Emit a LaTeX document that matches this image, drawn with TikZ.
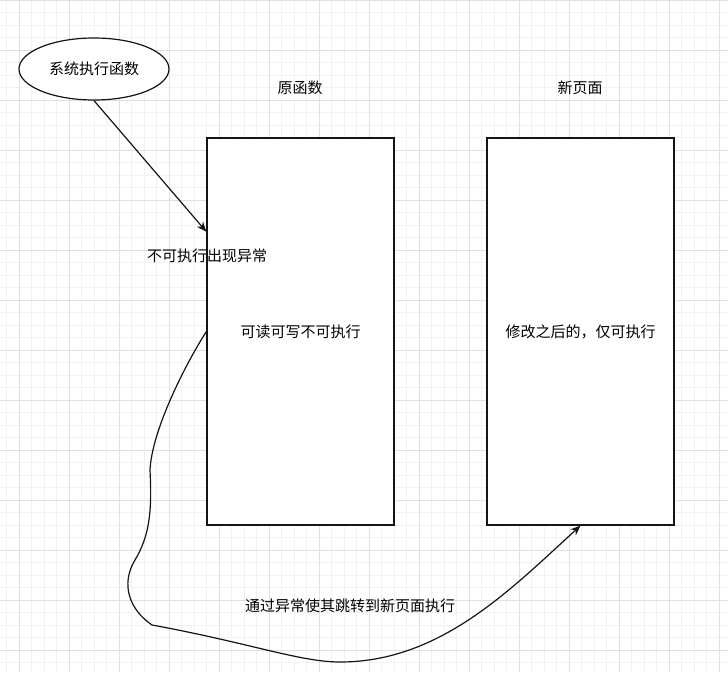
\documentclass[tikz,border=0pt]{standalone}
\usepackage{fontspec}
\setmainfont{Noto Sans CJK SC}
\usepackage{tikz}
\usetikzlibrary{shapes.geometric, arrows.meta, positioning, calc}
\definecolor{gridmajor}{RGB}{224, 224, 224}
\definecolor{gridminor}{RGB}{242, 242, 242}
\definecolor{edgeblack}{RGB}{20, 20, 20}
\tikzset{
  >=Stealth,
  jumparrow/.style={-{Stealth[length=10pt, width=8pt]}, line width=1.2pt, edgeblack},
  pagebox/.style={draw=edgeblack, fill=white, line width=1.2pt, minimum width=187pt, minimum height=387pt, inner sep=0pt},
  startoval/.style={draw=edgeblack, fill=white, ellipse, line width=1.2pt, minimum width=150pt, minimum height=62pt, inner sep=0pt},
  plainlabel/.style={inner sep=1pt, font=\fontsize{15}{18}\selectfont}
}
\begin{document}
\begin{tikzpicture}[x=1pt, y=-1pt, every node/.style={font=\fontsize{15}{18}\selectfont}]
    \useasboundingbox (0,0) rectangle (728,672);
    \fill[white] (0,0) rectangle (728,672);
    % background grid
    \begin{scope}[xshift=19.3pt]
        \draw[gridminor, line width=0.8pt, step=12.5pt] (-19.3,0) grid (708.7,672);
        \draw[gridmajor, line width=0.8pt, step=50pt] (-19.3,0) grid (708.7,672);
    \end{scope}

    \node (sysfn) [startoval] at (94,69) {系统执行函数};
    \node (origfn) [pagebox] at (300.5,331.5) {可读可写不可执行};
    \node (newpg) [pagebox] at (580.5,331.5) {修改之后的，仅可执行};
    \node (origtitle) [plainlabel] at (300,88) {原函数};
    \node (newtitle) [plainlabel] at (580,88) {新页面};
    \coordinate (hit) at ($(origfn.north west)!0.243!(origfn.south west)$);

    \draw[jumparrow] (sysfn.south) -- (hit);
    \node (faultlbl) [plainlabel] at (207,256) {不可执行出现异常};

    \draw[jumparrow] (origfn.west) .. controls (185,365) and (152,430) .. (150,470)
        .. controls (152,510) and (150,535) .. (135,560)
        .. controls (120,585) and (130,610) .. (152,625)
        .. controls (250,643) and (300,662) .. (340,662)
        .. controls (440,662) and (510,590) .. (newpg.south);
    \node (jumplbl) [plainlabel] at (350,606) {通过异常使其跳转到新页面执行};
\end{tikzpicture}
\end{document}
